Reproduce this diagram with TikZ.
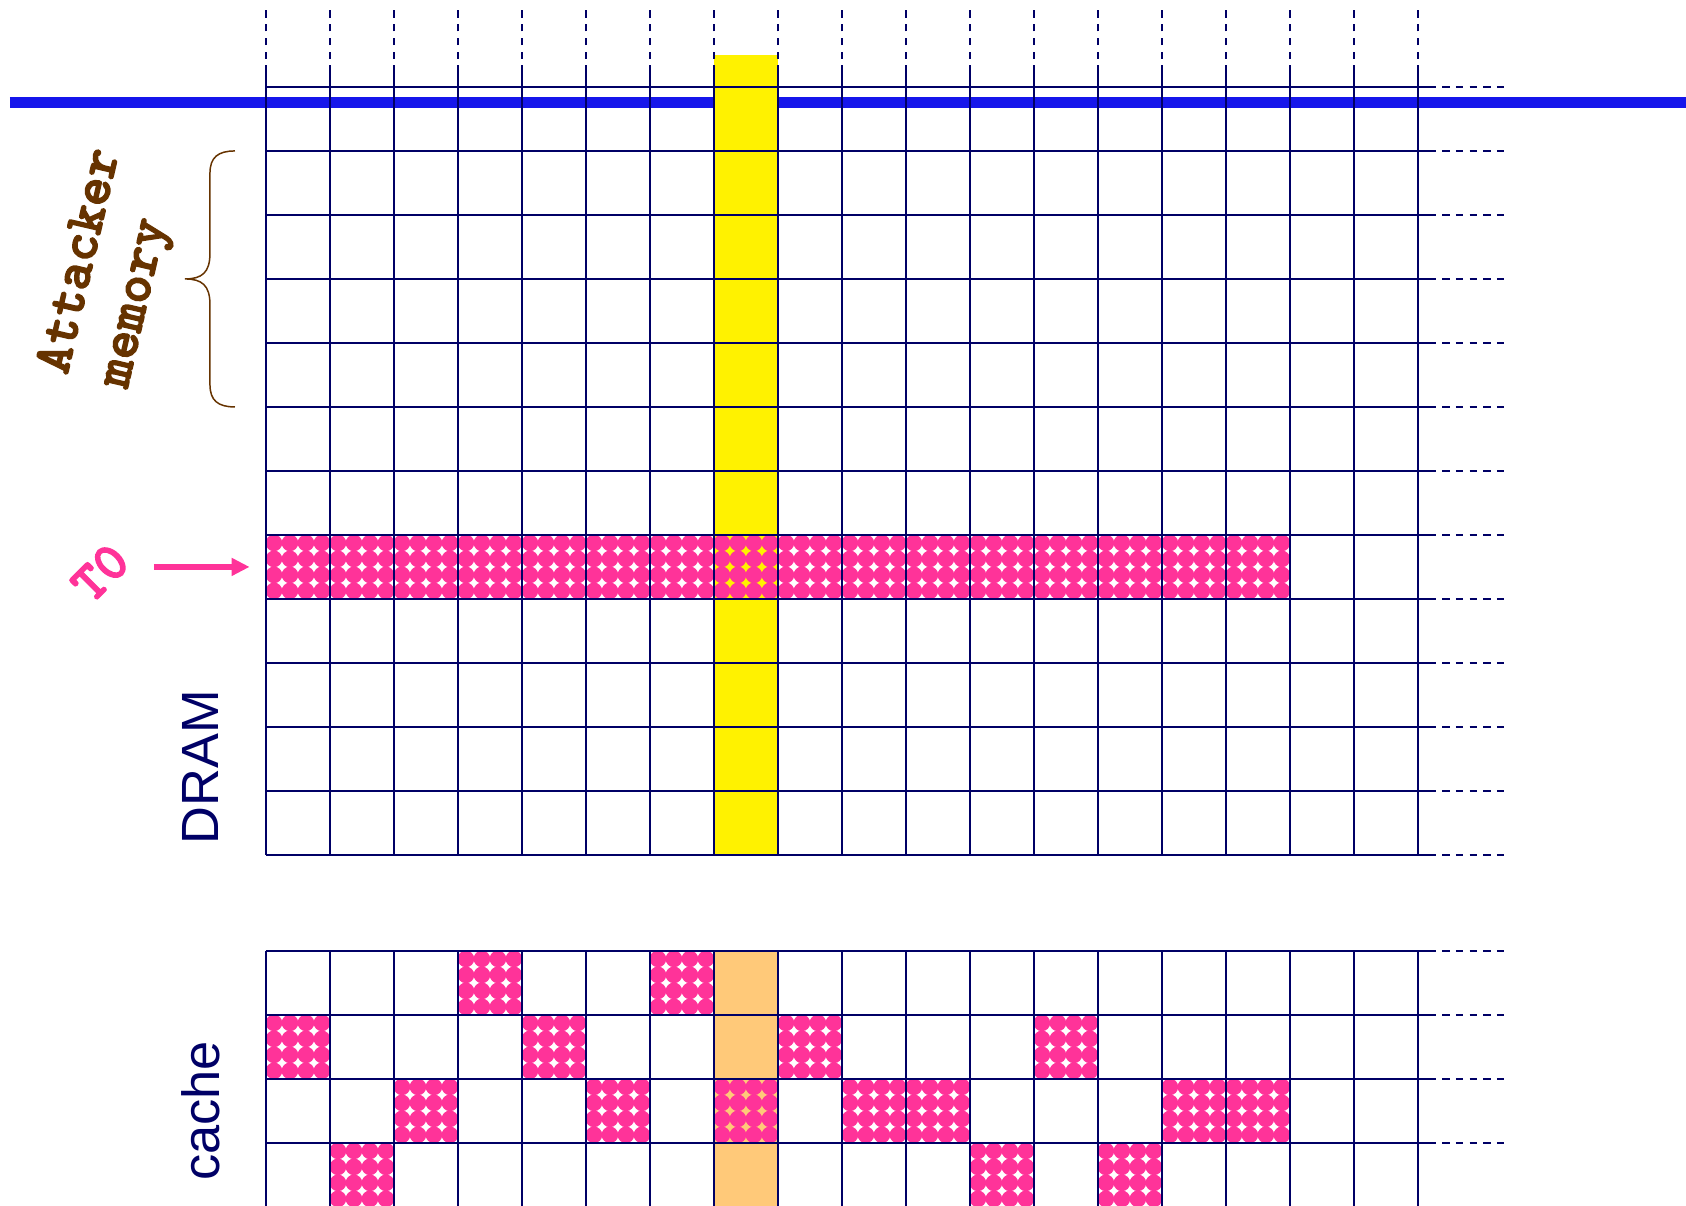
\documentclass[tikz,border=0pt]{standalone}
\usepackage{fontspec}
\setmainfont{Liberation Sans}
\newfontfamily\typewriter{lmmonolt10-bold}[Extension=.otf,RawFeature={embolden=2.5}]
\usepackage{tikz}
\usetikzlibrary{arrows.meta}
\definecolor{GridNavy}{RGB}{0, 0, 102}
\definecolor{BusBlue}{RGB}{22, 22, 235}
\definecolor{LinePink}{RGB}{255, 51, 153}
\definecolor{SetOrange}{RGB}{255, 201, 121}
\definecolor{AttackBrown}{RGB}{102, 51, 0}

\begin{document}
\begin{tikzpicture}[x=1.28cm,y=1.28cm,every node/.style={inner sep=0pt},
    gridline/.style={draw=GridNavy,line width=0.75pt},
    gridtail/.style={draw=GridNavy,line width=0.75pt,dash pattern=on 0.146cm off 0.128cm,dash phase=0.146cm},
    dotfill/.style={fill=LinePink}]
    \useasboundingbox (-4.156,-5.484) rectangle (22.19,13.359);
    % bus line and probed column
    \draw[BusBlue,line width=0.22cm] (-4.0,11.75) -- (22.3,11.75);
    \fill[yellow] (7,0) rectangle (8,12.5);
    \fill[SetOrange] (7,-1.5) rectangle (8,-5.6);
    % T0 row in DRAM
    \foreach \c in {0,...,15}
      \foreach \i in {0,...,3}
        \foreach \j in {0,...,3}
          \fill[dotfill] (\c+0.125+0.25*\i,4.125+0.25*\j) circle (0.13);
    % T0 lines in cache (column/row)
    \foreach \c/\r in {3/0,6/0,0/1,4/1,8/1,12/1,2/2,5/2,7/2,9/2,10/2,14/2,15/2,1/3,11/3,13/3}
      \foreach \i in {0,...,3}
        \foreach \j in {0,...,3}
          \fill[dotfill] (\c+0.125+0.25*\i,-1.625-\r-0.25*\j) circle (0.13);
    % DRAM grid
    \foreach \x in {0,...,18} {
      \draw[gridline] (\x,0) -- (\x,12.34);
      \draw[gridtail] (\x,12.34) -- (\x,13.2);
    }
    \foreach \y in {0,...,12} {
      \draw[gridline] (0,\y) -- (18.28,\y);
      \draw[gridtail] (18.28,\y) -- (19.42,\y);
    }
    % cache grid
    \foreach \x in {0,...,18}
      \draw[gridline] (\x,-1.5) -- (\x,-5.6);
    \foreach \y in {-1.5,-2.5,-3.5,-4.5} {
      \draw[gridline] (0,\y) -- (18.28,\y);
      \draw[gridtail] (18.28,\y) -- (19.42,\y);
    }
    \node[minimum width=20.48cm,minimum height=1.28cm] (t0row) at (8,4.5) {};
    % labels
    \node[rotate=90,text=GridNavy,font=\fontsize{29.8}{30}\selectfont] (dram) at (-1.02,1.375) {DRAM};
    \node[rotate=90,text=GridNavy,font=\fontsize{29.8}{30}\selectfont] (cache) at (-1.02,-4.0) {cache};
    \node[rotate=77,align=left,text=AttackBrown,font=\typewriter\fontsize{31}{35.1}\selectfont] (attacker) at (-2.40,9.16) {Attacker\\memory};
    \node[rotate=45,text=LinePink,font=\typewriter\fontsize{31}{32}\selectfont] (t0) at (-2.59,4.41) {T0};
    \coordinate (t0tail) at (-1.75,4.5);
    \draw[-{Triangle[length=0.36cm,width=0.34cm]},LinePink,line width=0.12cm,shorten >=0.32cm] (t0tail) -- (t0row.west);
    % brace over attacker rows
    \draw[AttackBrown,line width=0.85pt] (-0.484,11) .. controls (-0.75,11) and (-0.875,10.9) .. (-0.875,10.65) -- (-0.875,9.4)
      .. controls (-0.875,9.1) and (-1.0,9.0) .. (-1.266,9.0) .. controls (-1.0,9.0) and (-0.875,8.9) .. (-0.875,8.6)
      -- (-0.875,7.35) .. controls (-0.875,7.1) and (-0.75,7.0) .. (-0.484,7.0);
\end{tikzpicture}
\end{document}
